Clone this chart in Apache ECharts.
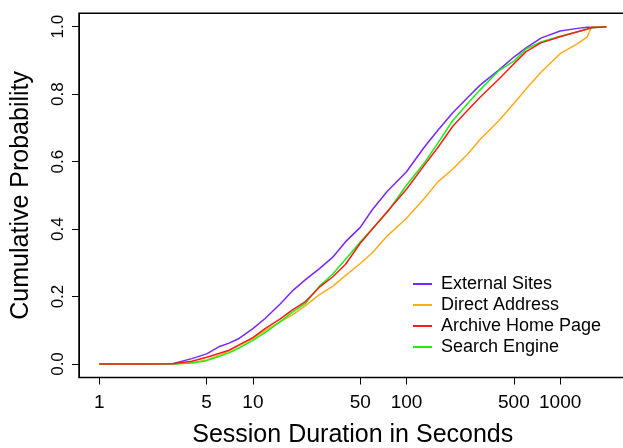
<!DOCTYPE html>
<html>
<head>
<meta charset="utf-8">
<script src="https://cdn.jsdelivr.net/npm/echarts@6/dist/echarts.min.js"></script>
<style>
  html, body { margin: 0; padding: 0; background: #fff; }
  #session-chart { width: 623px; height: 448px; }
</style>
</head>
<body>
<div id="session-chart"></div>
<script>
// session duration (seconds), shared by all four curves
const durations = [1, 2, 3, 4, 5, 6, 7, 8, 10, 12, 15, 18, 22, 27, 33, 40, 50, 60, 75, 100,
  130, 160, 200, 250, 300, 400, 500, 600, 750, 1000, 1300, 1500, 1550, 1600, 2000];

const externalSites = [0, 0, 0.001, 0.016, 0.030, 0.051, 0.062, 0.074, 0.105, 0.135, 0.177, 0.216,
  0.250, 0.282, 0.316, 0.362, 0.405, 0.458, 0.512, 0.570, 0.642, 0.693, 0.745, 0.790, 0.826, 0.872,
  0.910, 0.937, 0.966, 0.987, 0.995, 0.998, 0.998, 0.999, 1.0];
const directAddress = [0, 0, 0, 0.004, 0.012, 0.025, 0.038, 0.053, 0.075, 0.099, 0.125, 0.145,
  0.173, 0.205, 0.230, 0.262, 0.298, 0.330, 0.380, 0.432, 0.490, 0.540, 0.578, 0.622, 0.665, 0.722,
  0.772, 0.815, 0.865, 0.920, 0.950, 0.970, 0.985, 0.998, 1.0];
const archiveHome = [0, 0, 0.001, 0.008, 0.020, 0.031, 0.041, 0.055, 0.078, 0.105, 0.133, 0.160,
  0.185, 0.227, 0.258, 0.295, 0.358, 0.400, 0.452, 0.518, 0.588, 0.642, 0.705, 0.752, 0.790, 0.845,
  0.890, 0.926, 0.952, 0.970, 0.985, 0.993, 0.995, 0.997, 1.0];
const searchEngine = [0, 0, 0, 0.003, 0.010, 0.022, 0.033, 0.046, 0.070, 0.093, 0.125, 0.153,
  0.180, 0.230, 0.266, 0.310, 0.362, 0.402, 0.450, 0.530, 0.595, 0.655, 0.722, 0.772, 0.812, 0.870,
  0.898, 0.934, 0.955, 0.972, 0.985, 0.992, 0.994, 0.997, 1.0];

const xTicks = [1, 5, 10, 50, 100, 500, 1000];
const yTicks = [0, 0.2, 0.4, 0.6, 0.8, 1.0];

const FONT = '"Liberation Sans", Arial, sans-serif';

function pairs(ys) {
  return durations.map((d, i) => [d, ys[i]]);
}

function lineSeries(name, ys, color) {
  return {
    name: name,
    type: 'line',
    data: pairs(ys),
    symbol: 'none',
    showSymbol: false,
    color: color,
    lineStyle: { color: color, width: 1.5 },
    animation: false
  };
}

let myChart = echarts.init(document.getElementById('session-chart'));
let option = {
  backgroundColor: '#fff',
  grid: {
    left: 79, top: 13.2, width: 547.5, height: 364.3,
    containLabel: false,
    outerBoundsMode: 'none',
    show: true, borderColor: '#000', borderWidth: 1.5, backgroundColor: 'transparent'
  },
  legend: {
    orient: 'vertical',
    left: 408, top: 268.5,
    icon: 'rect',
    itemWidth: 19, itemHeight: 2, itemGap: 0,
    data: ['External Sites', 'Direct Address', 'Archive Home Page', 'Search Engine'],
    textStyle: { fontFamily: FONT, fontSize: 18, color: '#000', lineHeight: 21, padding: [0, 0, 0, 4] }
  },
  xAxis: {
    type: 'log',
    logBase: 10,
    min: 0.738, max: 2704,
    name: 'Session Duration in Seconds',
    nameLocation: 'middle',
    nameGap: 45,
    nameTextStyle: { fontFamily: FONT, fontSize: 25, color: '#000' },
    axisLine: { show: true, onZero: false, lineStyle: { color: '#000', width: 1 } },
    axisTick: { show: true, customValues: xTicks, length: 7, inside: false, lineStyle: { color: '#000' } },
    axisLabel: {
      customValues: xTicks, margin: 16,
      fontFamily: FONT, fontSize: 19, color: '#000',
      formatter: v => String(v)
    },
    splitLine: { show: false },
    minorTick: { show: false }
  },
  yAxis: {
    type: 'value',
    min: -0.04, max: 1.04,
    name: 'Cumulative Probability',
    nameLocation: 'middle',
    nameGap: 45,
    nameRotate: 90,
    nameTextStyle: { fontFamily: FONT, fontSize: 25, color: '#000' },
    axisLine: { show: true, onZero: false, lineStyle: { color: '#000', width: 1 } },
    axisTick: { show: true, customValues: yTicks, length: 7, lineStyle: { color: '#000' } },
    axisLabel: {
      customValues: yTicks, rotate: 90, margin: 12,
      fontFamily: FONT, fontSize: 17, color: '#000',
      formatter: v => v.toFixed(1)
    },
    splitLine: { show: false }
  },
  series: [
    lineSeries('External Sites', externalSites, '#7a26ff'),
    lineSeries('Direct Address', directAddress, '#ffab1a'),
    lineSeries('Search Engine', searchEngine, '#19f019'),
    lineSeries('Archive Home Page', archiveHome, '#ff1a1a')
  ]
};
myChart.setOption(option);
</script>
</body>
</html>
